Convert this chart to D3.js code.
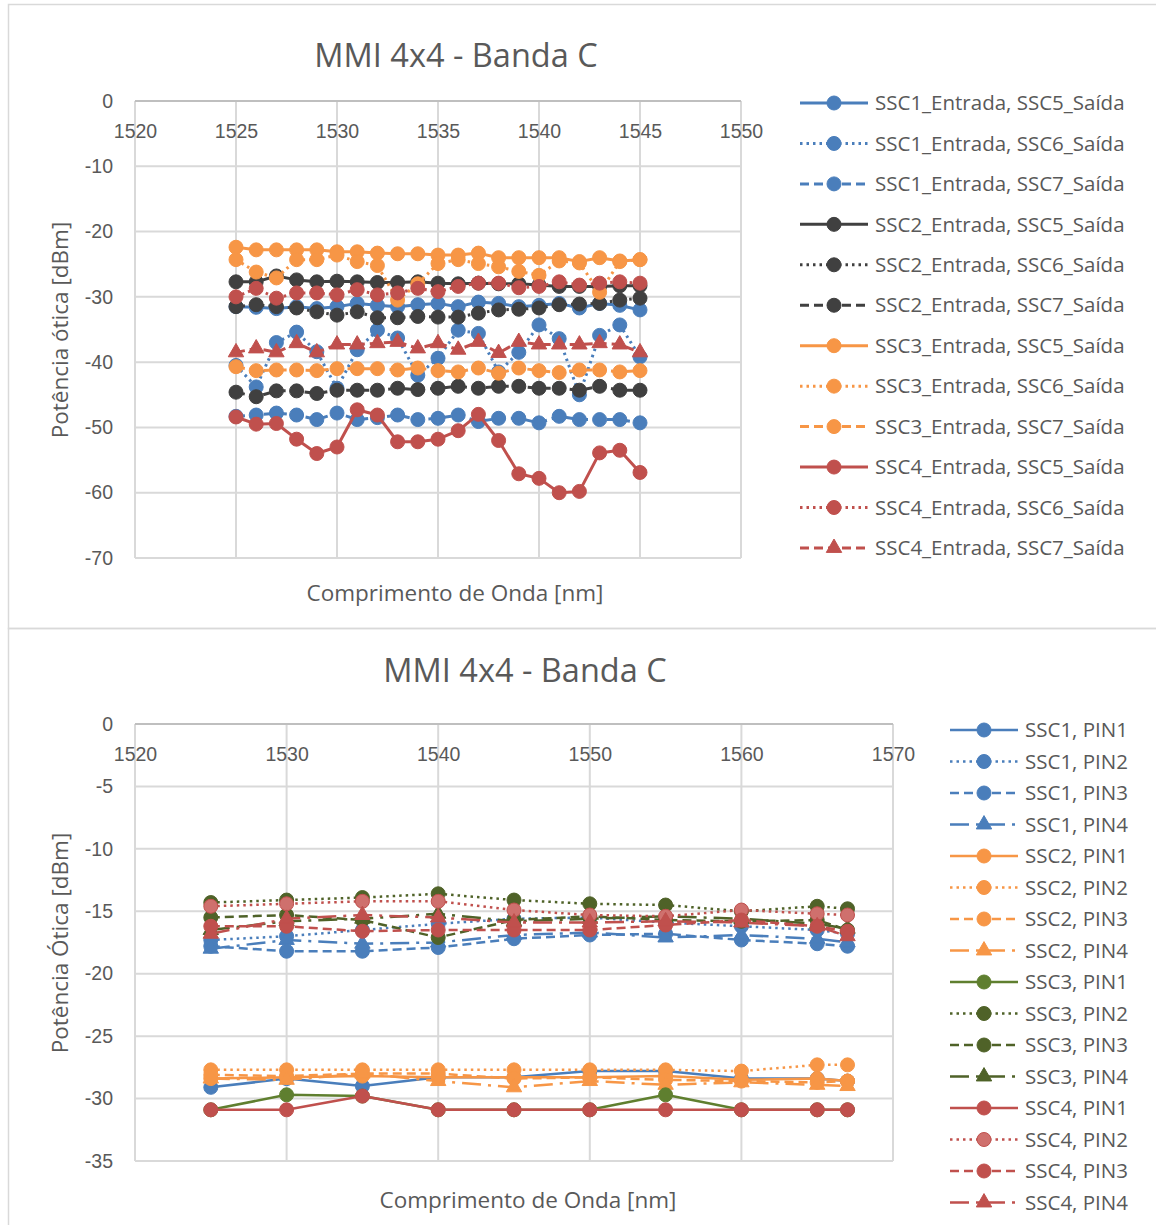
<!DOCTYPE html>
<html>
<head>
<meta charset="utf-8">
<script src="https://cdn.jsdelivr.net/npm/d3@7"></script>
<style>
  html, body { margin: 0; padding: 0; background: #fff; }
  svg { display: block; font-family: "Open Sans", "Noto Sans", sans-serif; }
</style>
</head>
<body>
<svg id="chart" width="1156" height="1225"></svg>
<script>
// ---------- Chart 1: input/output port combinations, 1 nm steps ----------
const wavelengthsA = [1525, 1526, 1527, 1528, 1529, 1530, 1531, 1532, 1533, 1534, 1535,
                      1536, 1537, 1538, 1539, 1540, 1541, 1542, 1543, 1544, 1545];
const xTicksA = [1520, 1525, 1530, 1535, 1540, 1545, 1550];
const yTicksA = [0, -10, -20, -30, -40, -50, -60, -70];

const ssc1_ssc5 = [-31.5, -31.6, -31.8, -31.5, -31.8, -31.5, -31.0, -31.3, -31.5, -31.2, -31.0, -31.5, -30.8, -31.0, -31.5, -31.3, -31.0, -31.7, -31.0, -31.3, -32.0];
const ssc1_ssc6 = [-40.5, -43.8, -37.0, -35.4, -38.4, -44.0, -38.1, -35.1, -36.3, -42.0, -39.4, -35.1, -35.6, -41.5, -38.5, -34.3, -36.4, -45.0, -35.9, -34.3, -39.2];
const ssc1_ssc7 = [-48.3, -48.1, -47.8, -48.1, -48.8, -47.8, -48.8, -48.5, -48.1, -48.8, -48.6, -48.1, -49.1, -48.6, -48.6, -49.3, -48.3, -48.8, -48.8, -48.8, -49.3];
const ssc2_ssc5 = [-27.7, -27.7, -26.8, -27.4, -27.7, -27.6, -27.7, -27.8, -27.8, -27.7, -27.9, -28.0, -27.9, -28.0, -28.0, -28.2, -28.4, -28.4, -28.4, -28.3, -28.3];
const ssc2_ssc6 = [-31.5, -31.2, -31.5, -31.7, -32.3, -32.8, -32.3, -33.2, -33.2, -33.0, -33.1, -33.1, -32.5, -32.0, -31.9, -31.7, -31.2, -31.1, -31.0, -30.5, -30.2];
const ssc2_ssc7 = [-44.6, -45.3, -44.4, -44.4, -44.8, -44.3, -44.3, -44.3, -44.0, -44.2, -44.0, -43.7, -44.0, -43.7, -43.7, -44.0, -44.0, -44.3, -43.7, -44.3, -44.3];
const ssc3_ssc5 = [-22.4, -22.8, -22.8, -22.8, -22.8, -23.1, -23.1, -23.3, -23.4, -23.4, -23.6, -23.6, -23.3, -24.0, -24.0, -24.0, -24.0, -24.6, -24.0, -24.5, -24.3];
const ssc3_ssc6 = [-24.3, -26.2, -27.1, -24.3, -24.3, -23.6, -24.6, -25.2, -30.5, -28.0, -24.9, -24.3, -24.9, -25.4, -26.1, -26.7, -24.5, -24.8, -29.3, -24.6, -24.3];
const ssc3_ssc7 = [-40.7, -41.3, -41.2, -41.2, -41.3, -41.0, -41.0, -41.0, -41.2, -40.9, -41.3, -41.5, -40.9, -41.7, -40.9, -41.3, -41.6, -41.2, -41.2, -41.5, -41.3];
const ssc4_ssc5 = [-48.4, -49.5, -49.4, -51.8, -54.0, -53.0, -47.3, -48.1, -52.2, -52.2, -51.8, -50.5, -48.0, -52.0, -57.1, -57.8, -60.0, -59.8, -53.9, -53.5, -56.9];
const ssc4_ssc6 = [-30.0, -28.7, -30.2, -29.4, -29.4, -29.7, -28.9, -29.7, -29.4, -28.7, -29.2, -28.4, -27.9, -27.9, -28.6, -28.4, -27.7, -28.2, -27.9, -27.7, -27.9];
const ssc4_ssc7 = [-38.5, -37.9, -38.5, -37.1, -38.5, -37.3, -37.3, -37.1, -36.9, -37.9, -37.1, -38.1, -36.9, -38.6, -36.9, -37.3, -37.3, -37.3, -37.1, -37.3, -38.5];

// ---------- Chart 2: per-source, per-photodiode power, wider band ----------
const wavelengthsB = [1525, 1530, 1535, 1540, 1545, 1550, 1555, 1560, 1565, 1567];
const xTicksB = [1520, 1530, 1540, 1550, 1560, 1570];
const yTicksB = [0, -5, -10, -15, -20, -25, -30, -35];

const ssc1_pin1 = [-29.1, -28.4, -29.0, -28.3, -28.3, -27.8, -27.8, -28.4, -28.4, -28.6];
const ssc1_pin2 = [-17.3, -17.0, -16.5, -16.0, -15.6, -15.5, -15.9, -16.2, -16.5, -16.8];
const ssc1_pin3 = [-17.8, -18.2, -18.2, -17.9, -17.2, -16.9, -16.8, -17.3, -17.6, -17.8];
const ssc1_pin4 = [-18.0, -17.3, -17.6, -17.5, -16.9, -16.7, -17.1, -16.9, -17.2, -17.5];
const ssc2_pin1 = [-28.4, -28.3, -28.2, -28.3, -28.3, -28.3, -28.2, -28.5, -28.4, -28.6];
const ssc2_pin2 = [-27.7, -27.7, -27.7, -27.7, -27.7, -27.7, -27.7, -27.8, -27.3, -27.3];
const ssc2_pin3 = [-28.1, -28.2, -28.0, -28.0, -28.4, -28.3, -28.5, -28.6, -28.7, -28.6];
const ssc2_pin4 = [-28.4, -28.5, -28.0, -28.6, -29.1, -28.6, -28.9, -28.7, -28.9, -29.0];
const ssc3_pin1 = [-30.9, -29.7, -29.8, -30.9, -30.9, -30.9, -29.7, -30.9, -30.9, -30.9];
const ssc3_pin2 = [-14.3, -14.1, -13.9, -13.6, -14.1, -14.4, -14.5, -15.0, -14.6, -14.8];
const ssc3_pin3 = [-15.5, -15.3, -15.7, -17.1, -15.7, -15.4, -15.7, -15.8, -15.7, -16.5];
const ssc3_pin4 = [-16.5, -15.8, -15.6, -15.2, -15.8, -15.6, -15.4, -15.6, -16.0, -16.4];
const ssc4_pin1 = [-30.9, -30.9, -29.8, -30.9, -30.9, -30.9, -30.9, -30.9, -30.9, -30.9];
const ssc4_pin2 = [-14.6, -14.4, -14.2, -14.2, -14.9, -15.3, -15.4, -14.9, -15.2, -15.3];
const ssc4_pin3 = [-16.2, -16.2, -16.6, -16.5, -16.5, -16.5, -16.1, -15.7, -16.2, -16.6];
const ssc4_pin4 = [-16.8, -15.6, -15.3, -15.5, -15.9, -15.9, -15.8, -15.9, -16.2, -17.0];

// ---------- palette & line styles ----------
const BLUE = "#4a7ebb", ORANGE = "#f79646", GREY = "#404040", RED = "#c0504d",
      GREEN = "#5f7f2f", DKGREEN = "#4f6228";
const DASH = { solid: null, dot: "2.5,4", dash: "9,5", dashdot: "19,7,3,7" };

const seriesA = [
  { name: "SSC1_Entrada, SSC5_Saída", values: ssc1_ssc5, color: BLUE,   dash: "solid", marker: "circle" },
  { name: "SSC1_Entrada, SSC6_Saída", values: ssc1_ssc6, color: BLUE,   dash: "dot",   marker: "circle" },
  { name: "SSC1_Entrada, SSC7_Saída", values: ssc1_ssc7, color: BLUE,   dash: "dash",  marker: "circle" },
  { name: "SSC2_Entrada, SSC5_Saída", values: ssc2_ssc5, color: GREY,   dash: "solid", marker: "circle" },
  { name: "SSC2_Entrada, SSC6_Saída", values: ssc2_ssc6, color: GREY,   dash: "dot",   marker: "circle" },
  { name: "SSC2_Entrada, SSC7_Saída", values: ssc2_ssc7, color: GREY,   dash: "dash",  marker: "circle" },
  { name: "SSC3_Entrada, SSC5_Saída", values: ssc3_ssc5, color: ORANGE, dash: "solid", marker: "circle" },
  { name: "SSC3_Entrada, SSC6_Saída", values: ssc3_ssc6, color: ORANGE, dash: "dot",   marker: "circle" },
  { name: "SSC3_Entrada, SSC7_Saída", values: ssc3_ssc7, color: ORANGE, dash: "dash",  marker: "circle" },
  { name: "SSC4_Entrada, SSC5_Saída", values: ssc4_ssc5, color: RED,    dash: "solid", marker: "circle" },
  { name: "SSC4_Entrada, SSC6_Saída", values: ssc4_ssc6, color: RED,    dash: "dot",   marker: "circle" },
  { name: "SSC4_Entrada, SSC7_Saída", values: ssc4_ssc7, color: RED,    dash: "dash",  marker: "triangle" }
];

const seriesB = [
  { name: "SSC1, PIN1", values: ssc1_pin1, color: BLUE,    dash: "solid",   marker: "circle" },
  { name: "SSC1, PIN2", values: ssc1_pin2, color: BLUE,    dash: "dot",     marker: "circle" },
  { name: "SSC1, PIN3", values: ssc1_pin3, color: BLUE,    dash: "dash",    marker: "circle" },
  { name: "SSC1, PIN4", values: ssc1_pin4, color: BLUE,    dash: "dashdot", marker: "triangle" },
  { name: "SSC2, PIN1", values: ssc2_pin1, color: ORANGE,  dash: "solid",   marker: "circle" },
  { name: "SSC2, PIN2", values: ssc2_pin2, color: ORANGE,  dash: "dot",     marker: "circle" },
  { name: "SSC2, PIN3", values: ssc2_pin3, color: ORANGE,  dash: "dash",    marker: "circle" },
  { name: "SSC2, PIN4", values: ssc2_pin4, color: ORANGE,  dash: "dashdot", marker: "triangle" },
  { name: "SSC3, PIN1", values: ssc3_pin1, color: GREEN,   dash: "solid",   marker: "circle" },
  { name: "SSC3, PIN2", values: ssc3_pin2, color: DKGREEN, dash: "dot",     marker: "circle" },
  { name: "SSC3, PIN3", values: ssc3_pin3, color: DKGREEN, dash: "dash",    marker: "circle" },
  { name: "SSC3, PIN4", values: ssc3_pin4, color: DKGREEN, dash: "dashdot", marker: "triangle" },
  { name: "SSC4, PIN1", values: ssc4_pin1, color: RED,     dash: "solid",   marker: "circle" },
  { name: "SSC4, PIN2", values: ssc4_pin2, color: RED,     dash: "dot",     marker: "circle", fill: "#cf706d" },
  { name: "SSC4, PIN3", values: ssc4_pin3, color: RED,     dash: "dash",    marker: "circle" },
  { name: "SSC4, PIN4", values: ssc4_pin4, color: RED,     dash: "dashdot", marker: "triangle" }
];

const svg = d3.select("#chart");
const TEXT = "#595959", GRID = "#d9d9d9";

// outer chart frames
svg.append("rect").attr("x", 8.5).attr("y", 4.5).attr("width", 1160).attr("height", 624)
  .attr("fill", "none").attr("stroke", GRID).attr("stroke-width", 1.5);
svg.append("rect").attr("x", 8.5).attr("y", 628.5).attr("width", 1160).attr("height", 610)
  .attr("fill", "none").attr("stroke", GRID).attr("stroke-width", 1.5);

function markerPath(kind, r) {
  if (kind === "triangle") return d3.symbol(d3.symbolTriangle, r * r * 2.1)();
  return d3.symbol(d3.symbolCircle, Math.PI * r * r)();
}

function drawChart(cfg) {
  const g = svg.append("g");
  const x = d3.scaleLinear().domain(cfg.xDomain).range([cfg.left, cfg.right]);
  const y = d3.scaleLinear().domain(cfg.yDomain).range([cfg.top, cfg.bottom]);

  // gridlines
  g.append("g").selectAll("line.h").data(cfg.yTicks).join("line")
    .attr("x1", cfg.left).attr("x2", cfg.right)
    .attr("y1", d => y(d)).attr("y2", d => y(d))
    .attr("stroke", d => d === 0 ? "#bfbfbf" : GRID).attr("stroke-width", 2);
  g.append("g").selectAll("line.v").data(cfg.xTicks).join("line")
    .attr("x1", d => x(d)).attr("x2", d => x(d))
    .attr("y1", cfg.top).attr("y2", cfg.bottom)
    .attr("stroke", GRID).attr("stroke-width", 2);
  // horizontal axis line at 0
  g.append("line").attr("x1", cfg.left).attr("x2", cfg.right)
    .attr("y1", y(0)).attr("y2", y(0)).attr("stroke", "#bfbfbf").attr("stroke-width", 2);

  // axes (labels only)
  const fmt = d => String(d);
  const xAxis = g.append("g").attr("transform", `translate(0,${y(0)})`)
    .call(d3.axisBottom(x).tickValues(cfg.xTicks).tickSize(0).tickPadding(cfg.xPad).tickFormat(fmt));
  const yAxis = g.append("g").attr("transform", `translate(${cfg.left},0)`)
    .call(d3.axisLeft(y).tickValues(cfg.yTicks).tickSize(0).tickPadding(22).tickFormat(fmt));
  [xAxis, yAxis].forEach(a => {
    a.select(".domain").remove();
    a.selectAll("text").attr("fill", TEXT).style("font-size", "19.5px").style("font-family", "inherit");
  });

  // series
  const line = d3.line().x((d, i) => x(cfg.xs[i])).y(d => y(d));
  cfg.series.forEach(s => {
    const sg = g.append("g");
    sg.append("path").datum(s.values).attr("d", line)
      .attr("fill", "none").attr("stroke", s.color).attr("stroke-width", cfg.lw)
      .attr("stroke-dasharray", DASH[s.dash]).attr("stroke-linejoin", "round");
    sg.selectAll("path.m").data(s.values).join("path")
      .attr("transform", (d, i) => `translate(${x(cfg.xs[i])},${y(d)})`)
      .attr("d", markerPath(s.marker, cfg.mr))
      .attr("fill", s.fill || s.color).attr("stroke", s.color).attr("stroke-width", 1);
  });

  // title & axis titles
  g.append("text").attr("x", cfg.titleX).attr("y", cfg.titleY).attr("text-anchor", "middle")
    .attr("fill", TEXT).style("font-size", "32.5px").text(cfg.title);
  g.append("text").attr("x", cfg.xTitleX).attr("y", cfg.xTitleY).attr("text-anchor", "middle")
    .attr("fill", TEXT).style("font-size", "22.5px").text("Comprimento de Onda [nm]");
  g.append("text").attr("transform", `translate(${cfg.yTitleX},${cfg.yTitleY}) rotate(-90)`)
    .attr("text-anchor", "middle").attr("fill", TEXT).style("font-size", "22.5px").text(cfg.yTitle);

  // legend
  const lg = g.append("g");
  cfg.series.forEach((s, i) => {
    const ly = cfg.legY + i * cfg.legStep;
    const it = lg.append("g");
    it.append("line").attr("x1", cfg.legX).attr("x2", cfg.legX + 68).attr("y1", ly).attr("y2", ly)
      .attr("stroke", s.color).attr("stroke-width", cfg.lw).attr("stroke-dasharray", DASH[s.dash]);
    it.append("path").attr("transform", `translate(${cfg.legX + 34},${ly})`)
      .attr("d", markerPath(s.marker, cfg.mr))
      .attr("fill", s.fill || s.color).attr("stroke", s.color).attr("stroke-width", 1);
    it.append("text").attr("x", cfg.legX + 75).attr("y", ly).attr("dy", "0.35em")
      .attr("fill", TEXT).style("font-size", "20.5px").text(s.name);
  });
}

drawChart({
  title: "MMI 4x4 - Banda C", titleX: 456, titleY: 67,
  yTitle: "Potência ótica [dBm]", yTitleX: 68, yTitleY: 330,
  xTitleX: 455, xTitleY: 601,
  left: 135, right: 741, top: 101, bottom: 558,
  xDomain: [1520, 1550], yDomain: [0, -70], xTicks: xTicksA, yTicks: yTicksA,
  xs: wavelengthsA, series: seriesA, xPad: 23, lw: 3, mr: 7,
  legX: 800, legY: 103, legStep: 40.45
});

drawChart({
  title: "MMI 4x4 - Banda C", titleX: 525, titleY: 682,
  yTitle: "Potência Ótica [dBm]", yTitleX: 68, yTitleY: 943,
  xTitleX: 528, xTitleY: 1208,
  left: 135, right: 893, top: 724, bottom: 1161,
  xDomain: [1520, 1570], yDomain: [0, -35], xTicks: xTicksB, yTicks: yTicksB,
  xs: wavelengthsB, series: seriesB, xPad: 23, lw: 2.5, mr: 7,
  legX: 950, legY: 730, legStep: 31.5
});
</script>
</body>
</html>
